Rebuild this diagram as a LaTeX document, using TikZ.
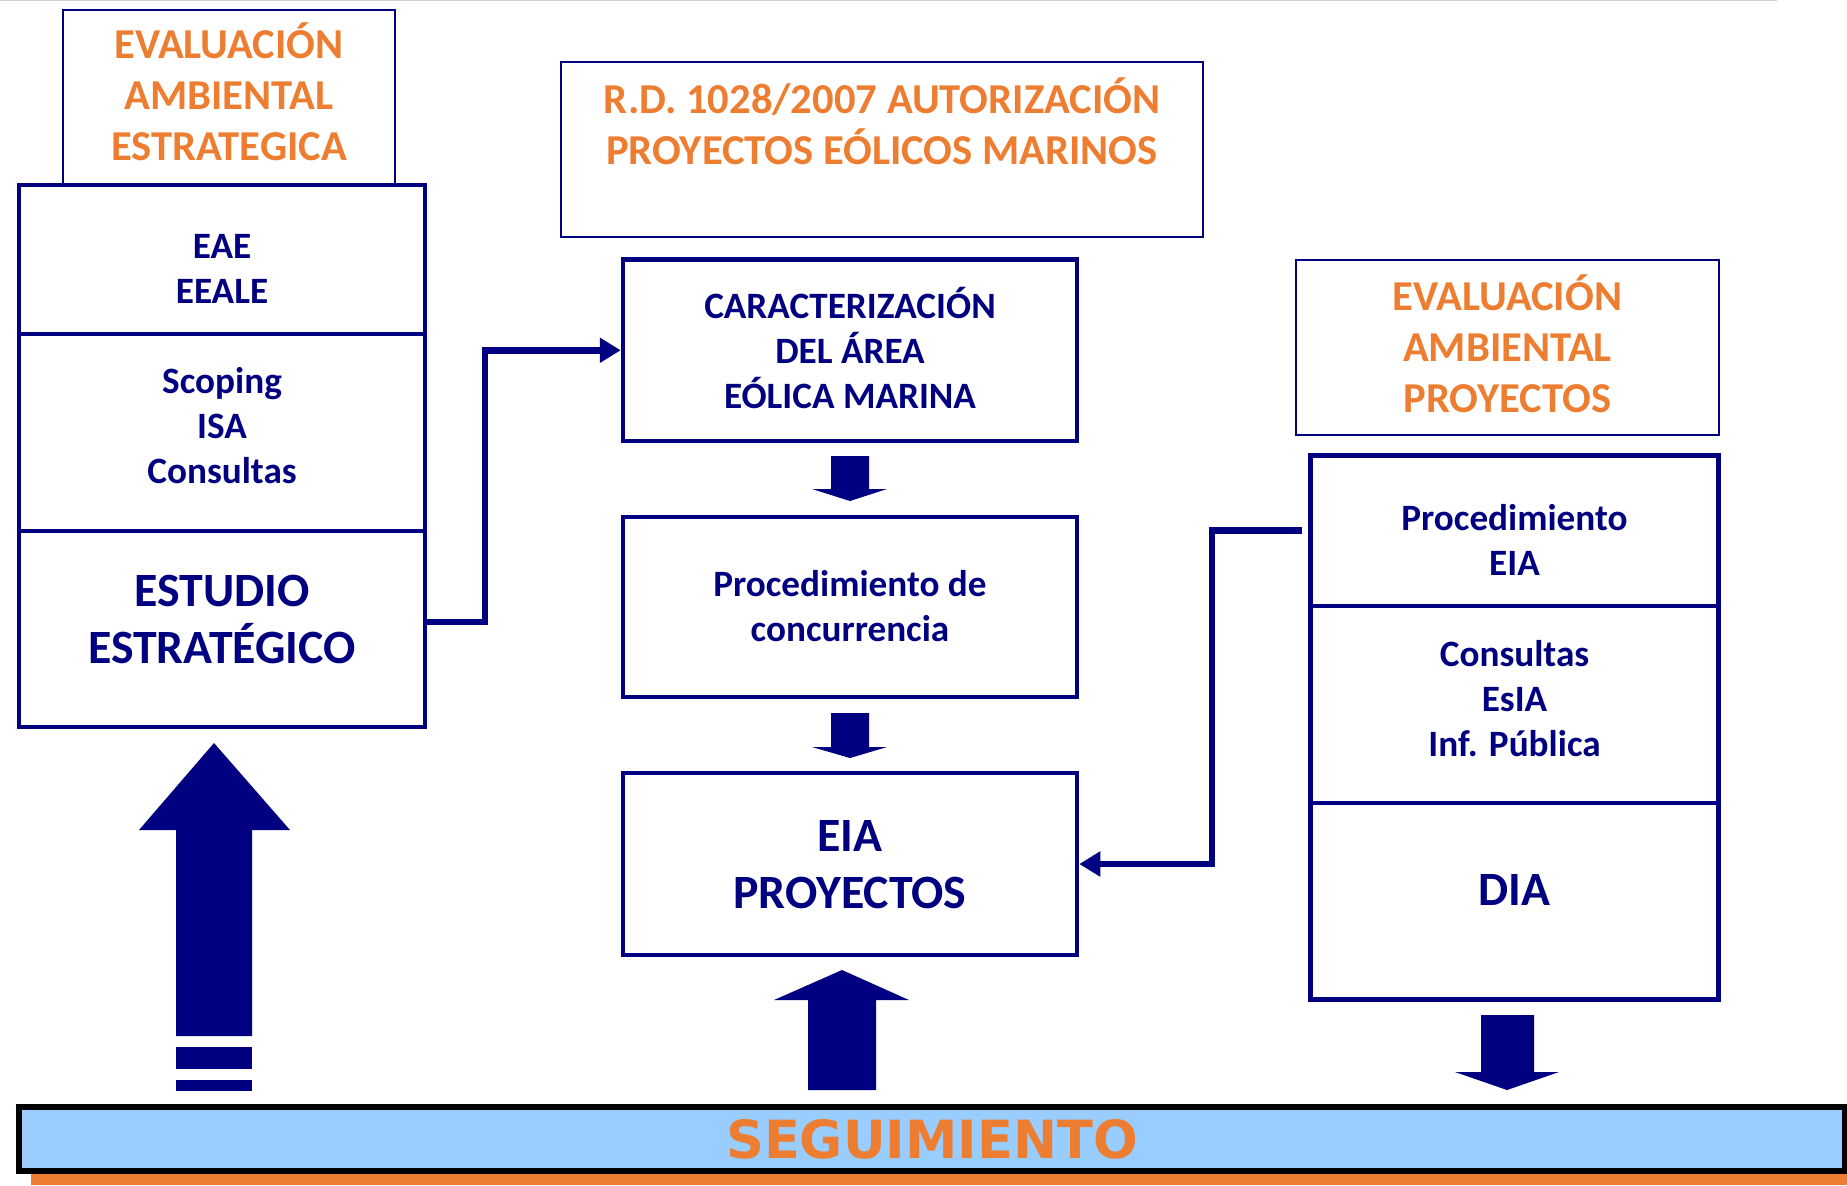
\documentclass[tikz,border=0pt]{standalone}
\usepackage{fontspec}
\setmainfont{Carlito}
\newfontfamily\segfont{DejaVu Sans}
\usetikzlibrary{arrows.meta}
\definecolor{navy}{RGB}{0,0,128}
\definecolor{orng}{RGB}{237,125,49}
\definecolor{skyb}{RGB}{153,204,255}
\begin{document}
\begin{tikzpicture}[x=0.5pt,y=-0.5pt,
  box/.style n args={2}{draw=navy,line width=2.25pt,minimum width=#1,minimum height=#2,inner sep=0pt},
  thinbox/.style n args={2}{draw=navy,line width=1.2pt,minimum width=#1,minimum height=#2,inner sep=0pt},
  txt/.style={inner sep=0pt,align=center,text=navy,font=\bfseries\fontsize{18.6pt}{22.5pt}\selectfont},
  bigtxt/.style={inner sep=0pt,align=center,text=navy,font=\bfseries\fontsize{23.9pt}{28.5pt}\selectfont},
  ttl/.style={inner sep=0pt,align=center,text=orng,font=\bfseries\fontsize{21.3pt}{25.5pt}\selectfont},
  conn/.style={draw=navy,line width=3.35pt,-{Triangle[length=10.5pt,width=12pt]}},
  blk/.style={fill=navy}]
\useasboundingbox (0,0) rectangle (1847,1185);
% top rule
\draw[line width=0.7pt,black!18] (0,0.7) -- (1777,0.7);

% left column
\node[thinbox={166pt}{87.5pt}] (lt) at (229,97.5) {};
\node[ttl] (ltx) at (229,92) {EVALUACIÓN\\AMBIENTAL\\ESTRATEGICA};
\node[box={203pt}{74.5pt}] (l1) at (222,259.5) {};
\node[box={203pt}{98.5pt}] (l2) at (222,432.5) {};
\node[box={203pt}{98pt}] (l3) at (222,629) {};
\node[txt] (l1x) at (222,269) {EAE\\EEALE};
\node[txt] (l2x) at (222,426) {Scoping\\ISA\\Consultas};
\node[bigtxt] (l3x) at (222,619) {ESTUDIO\\ESTRATÉGICO};

% middle column
\node[thinbox={321pt}{87.5pt}] (rd) at (882,149.5) {};
\node[ttl] (rdx) at (882,121) {R.D. 1028/2007 AUTORIZACIÓN\\PROYECTOS EÓLICOS MARINOS};
\node[box={227pt}{90.75pt}] (car) at (850,350.25) {};
\node[txt] (carx) at (850,348) {CARACTERIZACIÓN\\DEL ÁREA\\EÓLICA MARINA};
\node[box={227pt}{90pt}] (proc) at (850,607) {};
\node[txt] (procx) at (850,606) {Procedimiento de\\concurrencia};
\node[box={227pt}{91pt}] (eia) at (850,864) {};
\node[bigtxt] (eiax) at (850,864.5) {EIA\\PROYECTOS};

% right column
\node[thinbox={211.5pt}{87.5pt}] (rt) at (1507.5,347.5) {};
\node[ttl] (rtx) at (1507.5,344) {EVALUACIÓN\\AMBIENTAL\\PROYECTOS};
\node[box={204pt}{75.25pt}] (r1) at (1514.5,530.75) {};
\node[box={204pt}{98.5pt}] (r2) at (1514.5,704.5) {};
\node[box={204pt}{98.25pt}] (r3) at (1514.5,901.25) {};
\node[txt] (r1x) at (1514.5,540) {Procedimiento\\EIA};
\node[txt] (r2x) at (1514.5,698.5) {Consultas\\EsIA\\Inf. Pública};
\node[bigtxt] (r3x) at (1514.5,889.5) {DIA};

% connectors
\coordinate (k1) at (485,350.25);
\coordinate (k2) at (1212,864);
\draw[conn] ([yshift=3.5pt]l3.east) -| (k1) -- (car.west);
\draw[conn,shorten <=3.2pt] (r1.west) -| (k2) -- (eia.east);

% block arrows
\fill[blk] (831,456) -- (869,456) -- (869,489) -- (887,489) -- (850,501) -- (812,489) -- (831,489) -- cycle;
\fill[blk] (831,713) -- (869,713) -- (869,747) -- (887,747) -- (850,758) -- (812,747) -- (831,747) -- cycle;
\fill[blk] (808,1090) -- (876,1090) -- (876,1000) -- (909,1000) -- (842,970) -- (774,1000) -- (808,1000) -- cycle;
\fill[blk] (176,1036) -- (252,1036) -- (252,830) -- (290,830) -- (214,743) -- (139,830) -- (176,830) -- cycle;
\fill[blk] (176,1047) rectangle (252,1069);
\fill[blk] (176,1080) rectangle (252,1091);
\fill[blk] (1481,1015) -- (1534,1015) -- (1534,1072) -- (1559,1072) -- (1507,1090) -- (1455,1072) -- (1481,1072) -- cycle;

% seguimiento bar
\fill[orng] (31,1150) rectangle (1847,1185);
\node[draw=black,line width=3.25pt,fill=skyb,minimum width=913.25pt,minimum height=32pt,inner sep=0pt,
  text=orng,font=\segfont\bfseries\fontsize{26.3pt}{30pt}\selectfont] (seg) at (932,1139) {SEGUIMIENTO};
\end{tikzpicture}
\end{document}
